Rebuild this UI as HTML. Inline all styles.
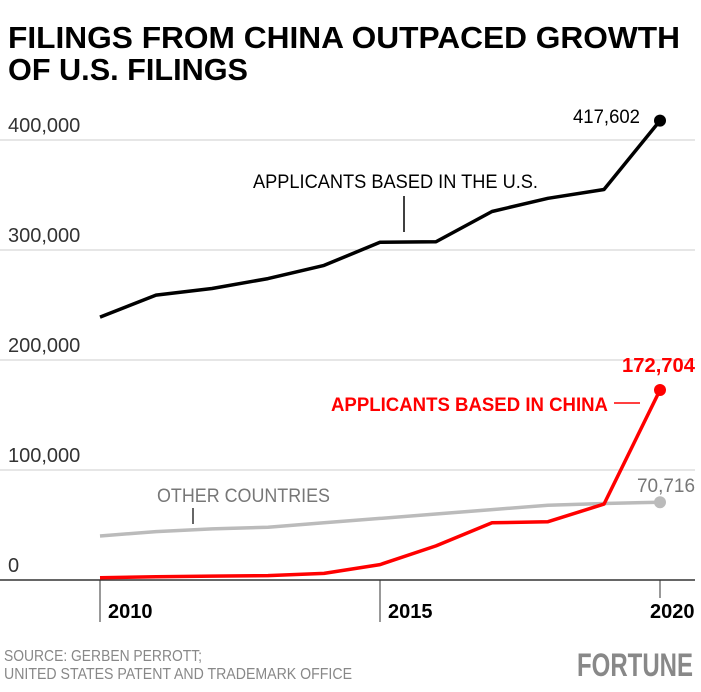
<!DOCTYPE html>
<html><head><meta charset="utf-8"><style>
body{margin:0;background:#fff;}
svg{display:block;font-family:"Liberation Sans Narrow","Liberation Sans",sans-serif;}
</style></head><body>
<svg id="chart" width="701" height="692" viewBox="0 0 701 692">
<text x="8" y="48" font-size="31" font-weight="bold" textLength="672" lengthAdjust="spacingAndGlyphs">FILINGS FROM CHINA OUTPACED GROWTH</text>
<text x="8" y="80" font-size="31" font-weight="bold" textLength="240" lengthAdjust="spacingAndGlyphs">OF U.S. FILINGS</text>
<g id="grid"></g>
<g id="xaxis"></g>
<g id="series"></g>
<text x="253" y="188" font-size="19" textLength="285" lengthAdjust="spacingAndGlyphs">APPLICANTS BASED IN THE U.S.</text>
<line x1="404" y1="196" x2="404" y2="232" stroke="#000" stroke-width="1.5"/>
<text x="331" y="411" font-size="19" font-weight="bold" fill="#f00" textLength="277" lengthAdjust="spacingAndGlyphs">APPLICANTS BASED IN CHINA</text>
<line x1="614" y1="403" x2="640" y2="403" stroke="#f00" stroke-width="1.5"/>
<text x="157" y="502" font-size="19" fill="#777" textLength="173" lengthAdjust="spacingAndGlyphs">OTHER COUNTRIES</text>
<line x1="193" y1="508" x2="193" y2="524" stroke="#000" stroke-width="1.2"/>
<text x="573" y="123" font-size="19" textLength="67" lengthAdjust="spacingAndGlyphs">417,602</text>
<text x="622" y="372" font-size="20" font-weight="bold" fill="#f00" textLength="73" lengthAdjust="spacingAndGlyphs">172,704</text>
<text x="637" y="492" font-size="19" fill="#777" textLength="58" lengthAdjust="spacingAndGlyphs">70,716</text>
<text x="4" y="661" font-size="16" fill="#888" textLength="198" lengthAdjust="spacingAndGlyphs">SOURCE: GERBEN PERROTT;</text>
<text x="4" y="679" font-size="16" fill="#888" textLength="348" lengthAdjust="spacingAndGlyphs">UNITED STATES PATENT AND TRADEMARK OFFICE</text>
<text x="577" y="676" font-size="32" font-weight="bold" fill="#888" textLength="116" lengthAdjust="spacingAndGlyphs">FORTUNE</text>
</svg>
<script>
const years=[2010,2011,2012,2013,2014,2015,2016,2017,2018,2019,2020];
const usValues=[239000,259000,265000,274000,286000,307000,307500,335000,347000,355000,417602];
const chinaValues=[2000,3000,3500,4000,6000,14000,31000,52000,53000,69000,172704];
const otherValues=[40000,44000,46500,48000,52000,56000,60000,64000,68000,69500,70716];
const yTicks=[0,100000,200000,300000,400000];
const yTickLabels=["0","100,000","200,000","300,000","400,000"];
const xTicks=[2010,2015,2020];
const NS="http://www.w3.org/2000/svg";
const x=v=>100+(v-2010)*56;
const y=v=>580-v*0.0011;
function mk(t,a,p){const e=document.createElementNS(NS,t);for(const k in a)e.setAttribute(k,a[k]);p.appendChild(e);return e;}
const grid=document.getElementById('grid');
yTicks.forEach((t,i)=>{
  const l=mk('line',{x1:0,x2:695,y1:y(t),y2:y(t),stroke:i===0?'#333':'#ccc','stroke-width':i===0?1.5:1},grid);
  
  
  const tx=mk('text',{x:8,y:y(t)-8,'font-size':20,fill:'#333'},grid);
  tx.textContent=yTickLabels[i];
  
  
});
const xa=document.getElementById('xaxis');
xTicks.forEach(t=>{
  const l=mk('line',{x1:x(t),x2:x(t),y1:580,y2:t===2020?598:622,stroke:'#333','stroke-width':1},xa);
  
  
  const tx=mk('text',{x:t===2020?x(t)-10:x(t)+8,y:618,'font-size':20,'font-weight':'bold'},xa);
  tx.textContent=t;
  
  
});
const sg=document.getElementById('series');
function series(vals,color,name){
  const p=mk('polyline',{points:vals.map((v,i)=>x(years[i])+','+y(v)).join(' '),fill:'none',stroke:color,'stroke-width':3.5,'stroke-linejoin':'round'},sg);
  
  
  const n=vals.length-1;
  const c=mk('circle',{cx:x(years[n]),cy:y(vals[n]),r:6,fill:color},sg);
  
  
}
series(otherValues,'#bbb','other');
series(chinaValues,'#f00','china');
series(usValues,'#000','us');
</script>
</body></html>
